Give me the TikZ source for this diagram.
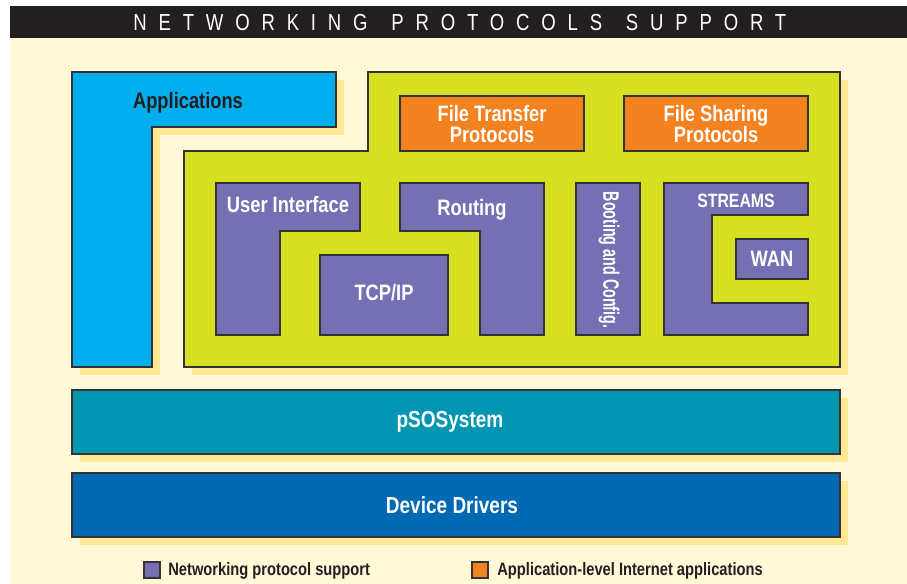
\documentclass[tikz,border=0pt]{standalone}
\usepackage{fontspec}
\newfontfamily\condfont{Liberation Sans}[FakeStretch=0.82]
\newfontfamily\narrowfont{Liberation Sans}[FakeStretch=0.64]
\newfontfamily\titlefont{Liberation Sans}[FakeStretch=0.8,LetterSpace=51,WordSpace=1.4]
\definecolor{cream}{HTML}{FFF9D8}
\definecolor{shadow}{HTML}{FFE996}
\definecolor{barblack}{HTML}{231F20}
\definecolor{appblue}{HTML}{00ADEE}
\definecolor{netgreen}{HTML}{D7DF21}
\definecolor{inetorange}{HTML}{F58221}
\definecolor{protopurple}{HTML}{7570B3}
\definecolor{psoteal}{HTML}{0096B1}
\definecolor{drvblue}{HTML}{0069B4}
\definecolor{outline}{HTML}{333333}
\begin{document}
\begin{tikzpicture}[x=0.02cm,y=-0.02cm,
    box/.style={draw=outline,line width=0.7pt},
    shadowed/.style={preaction={fill=shadow,transform canvas={shift={(8,8)}}}},
    lbl/.style={text=white,inner sep=0pt,align=center,
        font=\condfont\bfseries\fontsize{12.7}{12.3}\selectfont},
    keytext/.style={text=barblack,inner sep=0pt,anchor=base west,
        font=\condfont\bfseries\fontsize{10.2}{12}\selectfont}]
    \useasboundingbox (0,0) rectangle (907,584);
    \fill[white] (0,0) rectangle (907,584);
    \fill[cream] (10,38) rectangle (907,584);
    \fill[barblack] (10,6) rectangle (907,38);
    \node[text=white,inner sep=0pt,anchor=base west,
        font=\titlefont\fontsize{13.2}{14}\selectfont] (title) at (133,30.5)
        {NETWORKING PROTOCOLS SUPPORT};

    % applications and the protocol area
    \filldraw[box,shadowed,fill=appblue] (72,72) -- (336,72) -- (336,127) -- (152,127)
        -- (152,367) -- (72,367) -- cycle;
    \node[lbl,text=barblack,anchor=base] (apps) at (188,108.5) {Applications};
    \filldraw[box,shadowed,fill=netgreen] (368,72) -- (840,72) -- (840,367) -- (184,367)
        -- (184,151) -- (368,151) -- cycle;

    \filldraw[box,fill=inetorange] (400,96) rectangle (584,151);
    \node[lbl] (ftp) at (492,124) {File Transfer\\Protocols};
    \filldraw[box,fill=inetorange] (624,96) rectangle (808,151);
    \node[lbl] (fsp) at (716,124) {File Sharing\\Protocols};

    \filldraw[box,fill=protopurple] (216,183) -- (360,183) -- (360,231) -- (280,231)
        -- (280,335) -- (216,335) -- cycle;
    \node[lbl,anchor=base] (ui) at (288,212.7) {User Interface};
    \filldraw[box,fill=protopurple] (320,255) rectangle (448,335);
    \node[lbl,anchor=base] (tcpip) at (384,300.5) {TCP/IP};
    \filldraw[box,fill=protopurple] (400,183) -- (544,183) -- (544,335) -- (480,335)
        -- (480,231) -- (400,231) -- cycle;
    \node[lbl,anchor=base] (routing) at (472,215.7) {Routing};
    \filldraw[box,fill=protopurple] (576,183) rectangle (640,335);
    \node[lbl,rotate=-90,font=\narrowfont\bfseries\fontsize{12.7}{12}\selectfont] (boot) at (609,260) {Booting and Config.};
    \filldraw[box,fill=protopurple] (664,183) -- (808,183) -- (808,215) -- (712,215)
        -- (712,303) -- (808,303) -- (808,335) -- (664,335) -- cycle;
    \node[lbl,anchor=base,font=\condfont\bfseries\fontsize{11}{12}\selectfont] (streams) at (736,207.3) {STREAMS};
    \filldraw[box,fill=protopurple] (736,239) rectangle (808,279);
    \node[lbl,anchor=base] (wan) at (772,266.7) {WAN};

    % lower layers
    \filldraw[box,shadowed,fill=psoteal] (72,390) rectangle (840,454);
    \node[lbl,font=\condfont\bfseries\fontsize{13.2}{14}\selectfont] (pso) at (450,422) {pSOSystem};
    \filldraw[box,shadowed,fill=drvblue] (72,473) rectangle (840,537);
    \node[lbl,font=\condfont\bfseries\fontsize{13.2}{14}\selectfont] (drivers) at (452,505) {Device Drivers};

    % key
    \filldraw[box,fill=protopurple] (144,562) rectangle (160,578);
    \node[keytext] (keynet) at (168,576) {Networking protocol support};
    \filldraw[box,fill=inetorange] (472,562) rectangle (488,578);
    \node[keytext] (keyapp) at (497,576) {Application-level Internet applications};
\end{tikzpicture}
\end{document}
